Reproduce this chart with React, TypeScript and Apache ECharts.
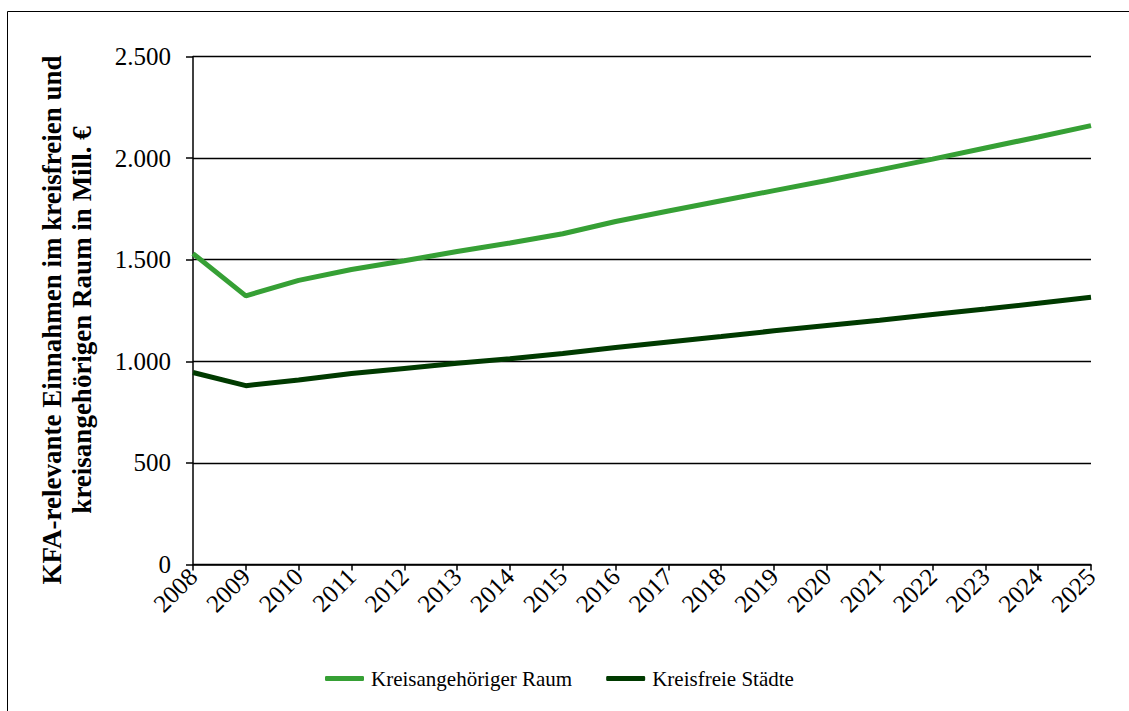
import React, { useEffect, useRef } from "react";
import * as echarts from "echarts";

const years = ["2008","2009","2010","2011","2012","2013","2014","2015","2016","2017","2018","2019","2020","2021","2022","2023","2024","2025"];
const kreisangehoeriger = [1530,1322,1398,1452,1495,1540,1582,1628,1688,1740,1790,1840,1890,1942,1995,2050,2104,2160];
const kreisfreie = [945,880,908,940,965,990,1012,1038,1068,1095,1122,1150,1176,1202,1230,1257,1286,1315];
const seriesNames = ["Kreisangehöriger Raum", "Kreisfreie Städte"];
const yTicks = { min: 0, max: 2500, interval: 500 };
const yAxisTitle = "KFA-relevante Einnahmen im kreisfreien und\nkreisangehörigen Raum in Mill. €";

const FONT = "'Liberation Serif', 'Times New Roman', serif";
const GREEN = "#36A035";
const DARK = "#003A00";

export default function App() {
  const ref = useRef<HTMLDivElement>(null);
  useEffect(() => {
    document.body.style.margin = "0";
    const chart = echarts.init(ref.current!, null, { renderer: "svg" });
    chart.setOption({
      animation: false,
      backgroundColor: "#fff",
      textStyle: { fontFamily: FONT },
      graphic: [
        {
          type: "rect",
          shape: { x: 7.5, y: 11.5, width: 1200, height: 800 },
          style: { fill: "none", stroke: "#000", lineWidth: 1 },
          silent: true,
          z: -1,
        },
        {
          type: "text",
          x: 67,
          y: 320,
          rotation: Math.PI / 2,
          style: {
            text: yAxisTitle,
            font: `bold 27px ${FONT}`,
            fill: "#000",
            align: "center",
            verticalAlign: "middle",
            lineHeight: 30,
          },
          silent: true,
        },
      ],
      grid: { left: 193, right: 38, top: 56.5, bottom: 146.5, containLabel: false },
      legend: {
        left: 325,
        top: 668,
        padding: 0,
        icon: "roundRect",
        itemWidth: 39,
        itemHeight: 5,
        itemGap: 34,
        textStyle: { fontFamily: FONT, fontSize: 21, color: "#000", padding: [0, 0, 0, 2] },
        data: [
          { name: seriesNames[0], itemStyle: { color: GREEN } },
          { name: seriesNames[1], itemStyle: { color: DARK } },
        ],
      },
      xAxis: {
        type: "category",
        data: years,
        boundaryGap: false,
        axisLine: { lineStyle: { color: "#000", width: 1.5 } },
        axisTick: { show: true, alignWithLabel: true, length: 6, lineStyle: { color: "#000", width: 1.5 } },
        axisLabel: { rotate: 45, interval: 0, fontFamily: FONT, fontSize: 25, color: "#000", margin: 8 },
        splitLine: { show: false },
      },
      yAxis: {
        type: "value",
        min: yTicks.min,
        max: yTicks.max,
        interval: yTicks.interval,
        axisLine: { show: true, lineStyle: { color: "#000", width: 1.5 } },
        axisTick: { show: true, length: 7, lineStyle: { color: "#000", width: 1.5 } },
        axisLabel: {
          fontFamily: FONT,
          fontSize: 25,
          color: "#000",
          margin: 22,
          formatter: (v: number) => v.toLocaleString("de-DE"),
        },
        splitLine: { show: true, lineStyle: { color: "#000", width: 1.3 } },
      },
      series: [
        {
          name: seriesNames[0],
          type: "line",
          data: kreisangehoeriger,
          symbol: "none",
          lineStyle: { color: GREEN, width: 5 },
          itemStyle: { color: GREEN },
        },
        {
          name: seriesNames[1],
          type: "line",
          data: kreisfreie,
          symbol: "none",
          lineStyle: { color: DARK, width: 5 },
          itemStyle: { color: DARK },
        },
      ],
    });
    return () => chart.dispose();
  }, []);
  return <div ref={ref} style={{ width: 1129, height: 711 }} />;
}
